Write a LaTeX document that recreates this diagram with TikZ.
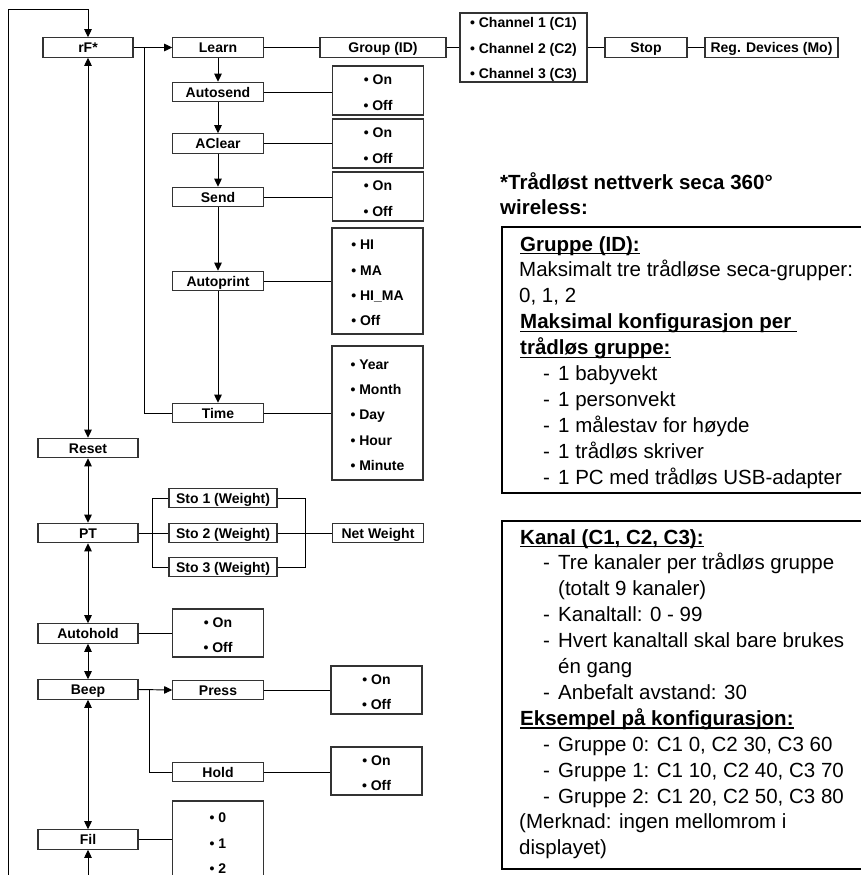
\documentclass[tikz,border=0pt]{standalone}
\usepackage{fontspec}
\setmainfont{Liberation Sans}
\usetikzlibrary{arrows.meta,calc}
\newcommand\boxfont{\fontsize{14}{16}\selectfont\bfseries}
\newcommand\optfont{\fontsize{14}{25.3}\selectfont\bfseries}
\newcommand\noteplain{\fontsize{20.5}{25}\selectfont}
\newcommand\notebold{\fontsize{20.5}{25}\selectfont\bfseries}
\newcommand\dashitem{\makebox[15pt][l]{-}}
\newcommand\topstrut{\rule{0pt}{14pt}}
\newcommand\ulx[1]{\setbox0\hbox{#1}\rlap{\rule[-3.2pt]{\wd0}{1.3pt}}\box0}
\begin{document}
\begin{tikzpicture}[x=1pt,y=-1pt,
  box/.style={draw=black!80, line width=1.1pt, inner sep=0pt, text height=10pt, text depth=0pt, minimum height=19.5pt, minimum width=100pt, font=\boxfont, fill=white},
  col/.style={minimum width=90.5pt},
  opt/.style={draw=black!80, line width=1.1pt, inner sep=0pt, font=\optfont, minimum width=90.5pt, fill=white},
  ln/.style={line width=0.95pt},
  arr/.style={ln, -{Triangle[length=8pt,width=7.5pt]}},
  darr/.style={ln, {Triangle[length=8pt,width=7.5pt]}-{Triangle[length=8pt,width=7.5pt]}},
  note/.style={anchor=base west, inner sep=0pt, font=\noteplain},
  noteh/.style={anchor=base west, inner sep=0pt, font=\notebold},
  tbox/.style={line width=1.8pt}]
\useasboundingbox (0,0) rectangle (861,875);
\clip (0,0) rectangle (861,875);

% main column
\node[box, minimum width=90pt] (rF) at (88,47.5) {rF*};
\node[box] (Reset) at (88,448) {Reset};
\node[box] (PT) at (88,533) {PT};
\node[box] (Autohold) at (88,633.5) {Autohold};
\node[box] (Beep) at (88,689.5) {Beep};
\node[box] (Fil) at (88,839.5) {Fil};

% second column
\node[box, col] (Learn) at (218,47.5) {Learn};
\node[box, col] (Autosend) at (218,92) {Autosend};
\node[box, col] (AClear) at (218,143.5) {AClear};
\node[box, col] (Send) at (218,197) {Send};
\node[box, col] (Autoprint) at (218,281) {Autoprint};
\node[box, col] (Time) at (218,413) {Time};
\node[box, col] (Press) at (218,690) {Press};
\node[box, col] (Hold) at (218,772) {Hold};

% top row
\node[box, minimum width=126pt] (Group) at (383,47.5) {Group (ID)};
\node[opt, minimum width=127pt, minimum height=69pt, align=left] (Chan) at (523.5,47.5)
  {\topstrut\textbullet\ Channel 1 (C1)\\\textbullet\ Channel 2 (C2)\\\textbullet\ Channel 3 (C3)};
\node[box, minimum width=82pt] (Stop) at (646,47.5) {Stop};
\node[box, minimum width=133pt] (Reg) at (771.5,47.5) {Reg. Devices (Mo)};

% PT group
\node[box, minimum width=108pt] (Sto1) at (223,498) {Sto 1 (Weight)};
\node[box, minimum width=108pt] (Sto2) at (223,533) {Sto 2 (Weight)};
\node[box, minimum width=108pt] (Sto3) at (223,567) {Sto 3 (Weight)};
\node[box, col] (Net) at (378,533) {Net Weight};

% option boxes
\node[opt, minimum height=49pt, align=center] (AutosendO) at (378,90.5) {\topstrut\textbullet\ On\\\textbullet\ Off};
\node[opt, minimum height=49pt, align=center] (AClearO) at (378,143.5) {\topstrut\textbullet\ On\\\textbullet\ Off};
\node[opt, minimum height=49pt, align=center] (SendO) at (378,196.5) {\topstrut\textbullet\ On\\\textbullet\ Off};
\node[opt, minimum width=91pt, minimum height=106pt, align=left] (AutoprintO) at (377.5,281)
  {\topstrut\textbullet\ HI\\\textbullet\ MA\\\textbullet\ HI\_MA\\\textbullet\ Off};
\node[opt, minimum width=91pt, minimum height=134pt, align=left] (TimeO) at (377.5,413)
  {\topstrut\textbullet\ Year\\\textbullet\ Month\\\textbullet\ Day\\\textbullet\ Hour\\\textbullet\ Minute};
\node[opt, minimum width=91pt, minimum height=48pt, align=center] (AutoholdO) at (218,633) {\topstrut\textbullet\ On\\\textbullet\ Off};
\node[opt, minimum width=91pt, minimum height=48pt, align=center] (PressO) at (376.5,690) {\topstrut\textbullet\ On\\\textbullet\ Off};
\node[opt, minimum width=91pt, minimum height=48pt, align=center] (HoldO) at (376.5,771) {\topstrut\textbullet\ On\\\textbullet\ Off};
\node[opt, minimum width=91pt, minimum height=80pt, align=center] (FilO) at (218,841) {\topstrut\textbullet\ 0\\\textbullet\ 1\\\textbullet\ 2};

% outer loop
\coordinate (lbot) at (8.5,876);
\coordinate (ltop) at (88,9.5);
\coordinate (fbot) at (88,876);
\draw[arr] (lbot) |- (ltop) -- (rF.north);
\draw[arr] (fbot) -- (Fil.south);

% main column arrows
\draw[darr] (rF) -- (Reset);
\draw[darr] (Reset) -- (PT);
\draw[darr] (PT) -- (Autohold);
\draw[darr] (Autohold) -- (Beep);
\draw[darr] (Beep) -- (Fil);

% rF submenu
\draw[arr] (rF.east) -- (Learn.west);
\draw[ln] ($(rF.east)+(11,0)$) |- (Time.west);
\draw[arr] (Learn) -- (Autosend);
\draw[arr] (Autosend) -- (AClear);
\draw[arr] (AClear) -- (Send);
\draw[arr] (Send) -- (Autoprint);
\draw[arr] (Autoprint) -- (Time);
\draw[ln] (Learn) -- (Group);
\draw[ln] (Group) -- (Chan);
\draw[ln] (Chan) -- (Stop);
\draw[ln] (Stop) -- (Reg);
\draw[ln] (Autosend.east) -- (Autosend.east -| AutosendO.west);
\draw[ln] (AClear.east) -- (AClear.east -| AClearO.west);
\draw[ln] (Send.east) -- (Send.east -| SendO.west);
\draw[ln] (Autoprint.east) -- (Autoprint.east -| AutoprintO.west);
\draw[ln] (Time.east) -- (Time.east -| TimeO.west);

% PT
\draw[ln] (PT.east) -- (Sto2.west);
\draw[ln] (Sto1.west) -- ++(-16,0) |- (Sto3.west);
\draw[ln] (Sto1.east) -- ++(28,0) |- (Sto3.east);
\draw[ln] (Sto2.east) -- (Net.west);

% Autohold, Beep, Fil
\draw[ln] (Autohold.east) -- (Autohold.east -| AutoholdO.west);
\draw[arr] (Beep.east) -- (Press.west);
\draw[ln] ($(Beep.east)+(11,0)$) |- (Hold.west);
\draw[ln] (Press.east) -- (Press.east -| PressO.west);
\draw[ln] (Hold.east) -- (Hold.east -| HoldO.west);
\draw[ln] (Fil.east) -- (Fil.east -| FilO.west);

% notes
\node[noteh] (h1) at (500,189) {*Trådløst nettverk seca 360°};
\node[noteh] (h2) at (500,214) {wireless:};

\draw[tbox] (863,227) -| (502,493) -- (863,493);
\node[noteh] (a0) at (520,251) {\ulx{Gruppe (ID):}};
\node[note] (a1) at (519,276.9) {Maksimalt tre trådløse seca-grupper:};
\node[note] (a2) at (519,302.8) {0, 1, 2};
\node[noteh] (a3) at (520,328.7) {\ulx{Maksimal konfigurasjon per\ }};
\node[noteh] (a4) at (520,354.6) {\ulx{trådløs gruppe:}};
\node[note] (a5) at (543,380.5) {\dashitem 1 babyvekt};
\node[note] (a6) at (543,406.4) {\dashitem 1 personvekt};
\node[note] (a7) at (543,432.3) {\dashitem 1 målestav for høyde};
\node[note] (a8) at (543,458.2) {\dashitem 1 trådløs skriver};
\node[note] (a9) at (543,484.1) {\dashitem 1 PC med trådløs USB-adapter};

\draw[tbox] (863,521) -| (502,869) -- (863,869);
\node[noteh] (k0) at (520,544) {\ulx{Kanal (C1, C2, C3):}};
\node[note] (k1) at (543,569.9) {\dashitem Tre kanaler per trådløs gruppe};
\node[note] (k2) at (558,595.8) {(totalt 9 kanaler)};
\node[note] (k3) at (543,621.7) {\dashitem Kanaltall: 0 - 99};
\node[note] (k4) at (543,647.6) {\dashitem Hvert kanaltall skal bare brukes};
\node[note] (k5) at (558,673.5) {én gang};
\node[note] (k6) at (543,699.4) {\dashitem Anbefalt avstand: 30};
\node[noteh] (k7) at (520,725.3) {\ulx{Eksempel på konfigurasjon:}};
\node[note] (k8) at (543,751.2) {\dashitem Gruppe 0: C1 0, C2 30, C3 60};
\node[note] (k9) at (543,777.1) {\dashitem Gruppe 1: C1 10, C2 40, C3 70};
\node[note] (k10) at (543,803) {\dashitem Gruppe 2: C1 20, C2 50, C3 80};
\node[note] (k11) at (519,828.9) {(Merknad: ingen mellomrom i};
\node[note] (k12) at (519,854.8) {displayet)};
\end{tikzpicture}
\end{document}
